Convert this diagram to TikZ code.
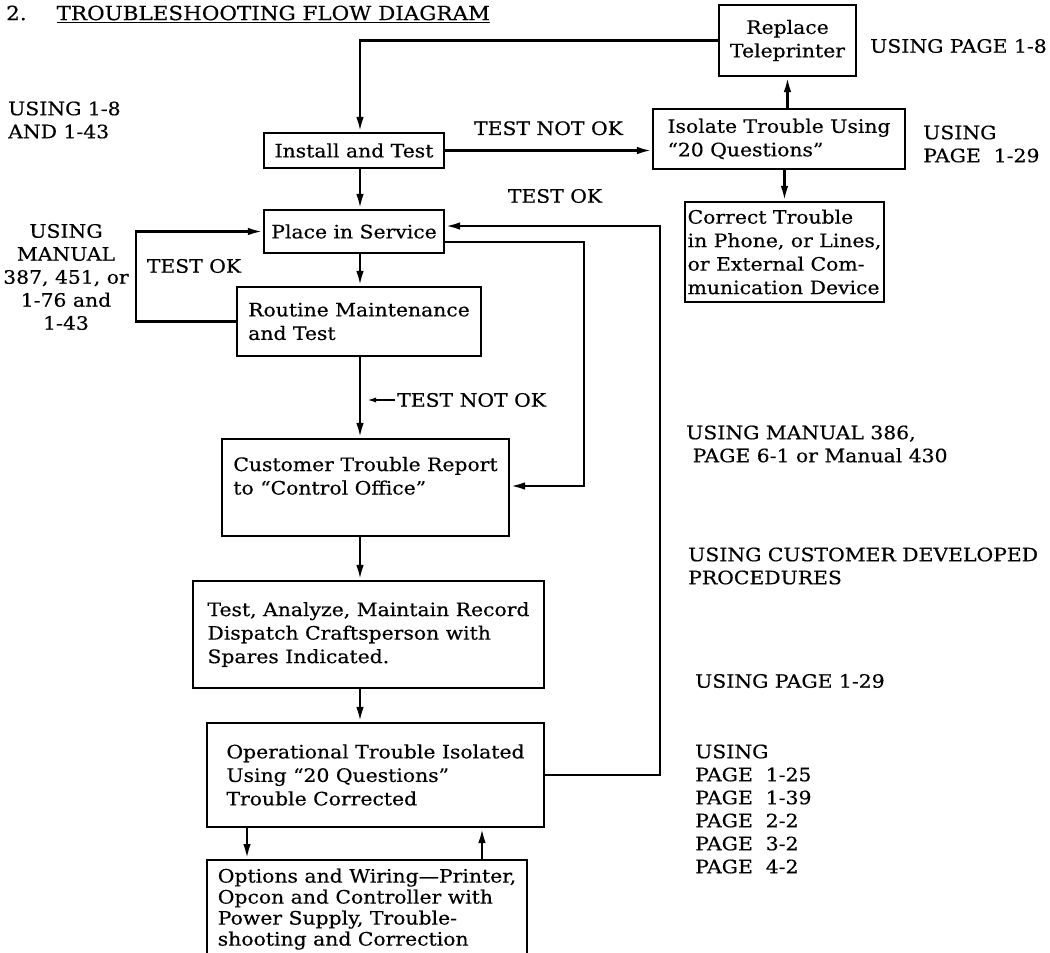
\documentclass[tikz,border=0pt]{standalone}
\usepackage{fontspec}
\setmainfont{DejaVu Serif}[FakeStretch=1.1, FakeBold=0.4]
\usepackage{tikz}
\usetikzlibrary{arrows.meta, positioning}

\begin{document}
\begin{tikzpicture}[x=1pt, y=-1pt, >={Latex[length=15pt,width=7.5pt]},
  proc/.style={rectangle, draw, line width=2.2pt, align=left, inner sep=3pt,
               font=\fontsize{18.5}{23.5}\selectfont},
  note/.style={align=left, inner sep=0pt, font=\fontsize{18.5}{23}\selectfont},
  lbl/.style={inner sep=0pt, font=\fontsize{18.5}{23}\selectfont},
  arr/.style={->, line width=2.5pt},
  tip/.style={-{Latex[length=10pt,width=5pt]}, line width=2pt}
]
\clip (0,0) rectangle (1050,953);

%% ---- Title ----
\node[lbl, anchor=west, font=\fontsize{19.5}{23}\selectfont] (title) at (6,14) {2.\hspace{30pt}\underline{TROUBLESHOOTING FLOW DIAGRAM}};

%% ---- Top right column ----
\node[proc, align=center, minimum width=137pt, minimum height=71pt] (replace) at (787.5,40.5) {Replace\\Teleprinter};
\node[proc, minimum width=252pt, minimum height=60pt] (isolate) at (779,139) {Isolate Trouble Using\\“20 Questions”};
\node[proc, minimum width=199pt, minimum height=100pt] (correct) at (784.5,252) {Correct Trouble\\in Phone, or Lines,\\or External Com-\\munication Device};

%% ---- Main column ----
\node[proc, align=center, minimum width=180pt, minimum height=35pt] (install) at (354,150.5) {Install and Test};
\node[proc, align=center, minimum width=180pt, minimum height=43pt] (place) at (354,231.5) {Place in Service};
\node[proc, minimum width=244pt, minimum height=69pt] (routine) at (359,321.5) {Routine Maintenance\\and Test};
\node[proc, minimum width=287pt, minimum height=97pt] (customer) at (365.5,487.5) {Customer Trouble Report\\to “Control Office”\\~};
\node[proc, minimum width=351pt, minimum height=107pt] (testrec) at (368.5,634.5) {Test, Analyze, Maintain Record\\Dispatch Craftsperson with\\Spares Indicated.};
\node[proc, minimum width=337pt, minimum height=104pt] (oper) at (375.5,775) {Operational Trouble Isolated\\Using “20 Questions”\\Trouble Corrected};
\node[proc, anchor=north, minimum width=320pt, minimum height=98pt,
      font=\fontsize{18.5}{21}\selectfont] (options) at (367,859) {Options and Wiring—Printer,\\Opcon and Controller with\\Power Supply, Trouble-\\shooting and Correction};

%% ---- Side notes ----
\node[note, anchor=west] (using18) at (8,120) {USING 1-8\\AND 1-43};
\node[note, align=center] (usingman) at (66,277) {USING\\MANUAL\\387, 451, or\\1-76 and\\1-43};
\node[note, anchor=west] (usingpg18) at (870,46) {USING PAGE 1-8};
\node[note, anchor=west] (usingpg129a) at (923,144) {USING\\PAGE\ \ 1-29};
\node[note, anchor=west] (usingman386) at (686,444) {USING MANUAL 386,\\\ PAGE 6-1 or Manual 430};
\node[note, anchor=west] (usingcust) at (688,566) {USING CUSTOMER DEVELOPED\\PROCEDURES};
\node[note, anchor=west] (usingpg129b) at (695,681) {USING PAGE 1-29};
\node[note, anchor=west] (usingpages) at (695,809) {USING\\PAGE\ \ 1-25\\PAGE\ \ 1-39\\PAGE\ \ 2-2\\PAGE\ \ 3-2\\PAGE\ \ 4-2};

%% ---- Labels ----
\node[lbl] (testok1) at (555,196) {TEST OK};
\node[lbl] (testok2) at (194,266) {TEST OK};
\node[lbl, anchor=west] (testnotok2) at (397,400) {TEST NOT OK};

%% ---- Helper coordinates ----
\coordinate (trunk)   at (360,0);
\coordinate (outbus)  at (584,486);
\coordinate (backbus) at (660,226);
\coordinate (downcol) at (247,0);
\coordinate (upcol)   at (482,0);

%% ---- Arrows ----
\draw[arr] (replace.west) -| (install.north -| trunk);
\draw[arr] (install.east) -- node[lbl, above=14pt]{TEST NOT OK} (install.east -| isolate.west);
\draw[arr] (isolate.north -| replace.south) -- (replace.south);
\draw[arr] (isolate.south -| correct.north) -- (correct.north);
\draw[arr] (install.south -| trunk) -- (place.north -| trunk);
\draw[arr] (place.south -| trunk) -- (routine.north -| trunk);
\draw[arr] (routine.south -| trunk) -- (customer.north -| trunk);
\draw[arr] (customer.south -| trunk) -- (testrec.north -| trunk);
\draw[arr] (testrec.south -| trunk) -- (oper.north -| trunk);
\draw[arr] (routine.west) -- ++(-100,0) |- (place.west);
% place -> customer report on the inner channel
\draw[arr] ([yshift=-10.5pt]place.east) -| (outbus) -- (outbus -| customer.east);
% trouble isolated -> back into service on the outer channel
\draw[arr] (oper.east) -| (backbus) -- (backbus -| place.east);
\draw[arr] (oper.south -| downcol) -- (options.north -| downcol);
\draw[arr] (options.north -| upcol) -- (oper.south -| upcol);
\draw[tip, shorten <=2pt, shorten >=6pt] (testnotok2.west) -- (testnotok2.west -| trunk);

\end{tikzpicture}
\end{document}
